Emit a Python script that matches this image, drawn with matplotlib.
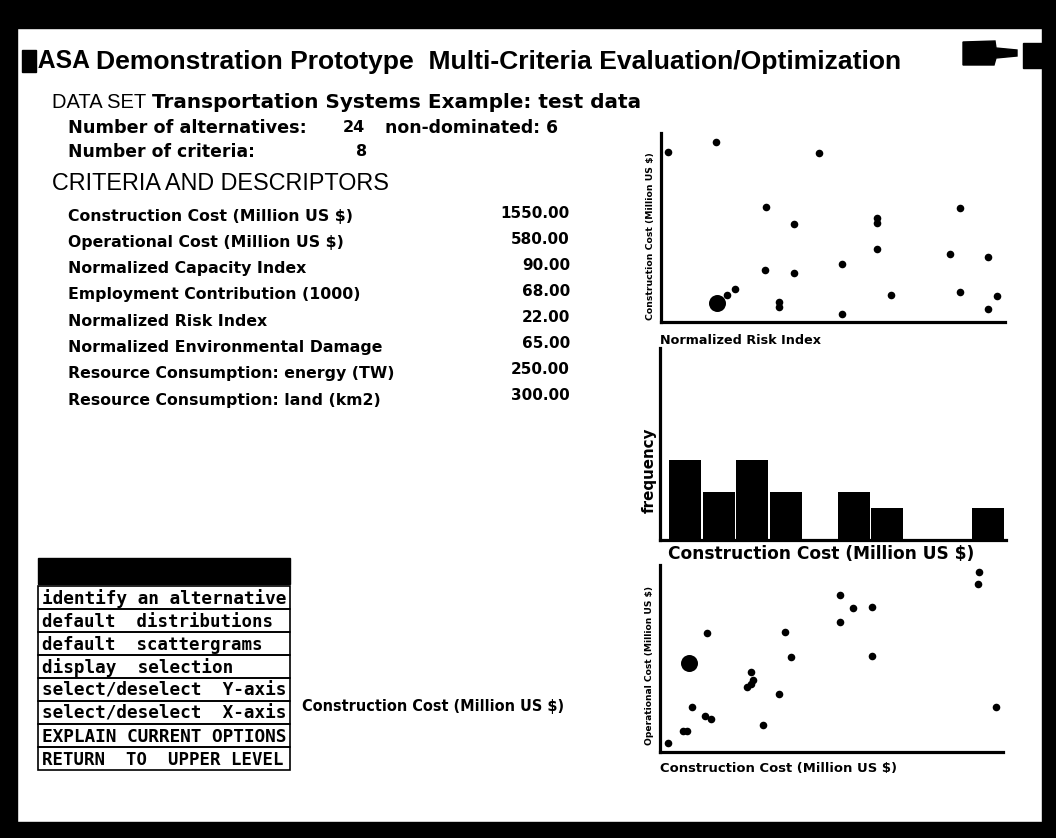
import matplotlib
matplotlib.use("Agg")
import matplotlib.pyplot as plt
from matplotlib.patches import Rectangle, Polygon

plt.rcParams["font.family"] = ["Liberation Sans", "DejaVu Sans"]
BITMAP = "DejaVu Sans"        # wide bold face, closest to the terminal font
MONO = "DejaVu Sans Mono"

# ── Screen text ─────────────────────────────────────────────────────────────
title_logo = "IIASA"
title_text = "Demonstration Prototype  Multi-Criteria Evaluation/Optimization"
dataset_name = "Transportation Systems Example: test data"
n_alternatives = 24
n_nondominated = 6
n_criteria = 8

criteria = [
    "Construction Cost (Million US $)",
    "Operational Cost (Million US $)",
    "Normalized Capacity Index",
    "Employment Contribution (1000)",
    "Normalized Risk Index",
    "Normalized Environmental Damage",
    "Resource Consumption: energy (TW)",
    "Resource Consumption: land (km2)",
]
descriptors = [1550.00, 580.00, 90.00, 68.00, 22.00, 65.00, 250.00, 300.00]

menu_items = [
    "identify an alternative",
    "default  distributions",
    "default  scattergrams",
    "display  selection",
    "select/deselect  Y-axis",
    "select/deselect  X-axis",
    "EXPLAIN CURRENT OPTIONS",
    "RETURN  TO  UPPER LEVEL",
]

# ── Chart data ─────────────────────────────────────────────────────────────
# scatter 1: Normalized Risk Index (x) vs Construction Cost (y)
risk_index = [2, 16, 46, 30.5, 38.7, 62.8, 62.8, 86.9, 30.2, 38.7, 52.6, 62.8,
              84, 95.1, 16.3, 19.2, 21.5, 34.3, 34.3, 52.6, 66.9, 86.9, 97.7, 95.1]
constr_cost_a = [1440, 1525, 1430, 975, 830, 880, 840, 965, 440, 415, 490, 620,
                 575, 550, 160, 230, 280, 170, 130, 70, 230, 255, 220, 110]
selected_a = 14

# histogram of Construction Cost, 10 classes
hist_counts = [5, 3, 5, 3, 0, 3, 2, 0, 0, 2]

# scatter 2: Construction Cost (x) vs Operational Cost (y)
constr_cost_b = [37, 107, 126, 149, 135, 219, 210, 238, 425, 406, 425, 434, 480,
                 555, 583, 611, 840, 840, 900, 989, 989, 1488, 1483, 1567]
oper_cost_b = [29, 67, 67, 144, 286, 382, 116, 106, 257, 209, 218, 231, 87,
               186, 385, 305, 504, 417, 462, 465, 308, 578, 539, 144]
selected_b = 4

W, H = 1056, 838
fig = plt.figure(figsize=(W / 100, H / 100), dpi=100)
bg = fig.add_axes([0, 0, 1, 1])
bg.set_xlim(0, W); bg.set_ylim(H, 0); bg.axis("off")
renderer = fig.canvas.get_renderer()


def label(x, y, s, width=None, size=11, **kw):
    """Put text at screen pixel (x, y); optionally scale font so it spans `width` px."""
    kw.setdefault("va", "center")
    t = bg.text(x, y, s, fontsize=size, **kw)
    if width:
        bb = t.get_window_extent(renderer)
        t.set_fontsize(size * width / max(bb.width, bb.height))
    return t


def pix_axes(x0, y0, x1, y1):
    ax = fig.add_axes([x0 / W, 1 - y1 / H, (x1 - x0) / W, (y1 - y0) / H])
    ax.set_facecolor("none")
    for sp in ["top", "right"]:
        ax.spines[sp].set_visible(False)
    for sp in ["left", "bottom"]:
        ax.spines[sp].set_linewidth(2.3)
    ax.set_xticks([]); ax.set_yticks([])
    return ax


bold = dict(fontweight="bold", family=BITMAP)

# ── Monitor frame ──────────────────────────────────────────────────────────
for r in [(0, 0, W, 28), (0, 0, 17, H), (1042, 0, 14, H), (0, 822, W, 16)]:
    bg.add_patch(Rectangle(r[:2], r[2], r[3], color="black", zorder=5))

# title bar
bg.add_patch(Rectangle((22, 50), 14, 22, color="black"))
label(24, 61, title_logo, width=66, size=16, fontweight="heavy")
label(96, 62, title_text, width=809, size=15, fontweight="bold")
bg.add_patch(Polygon([(963, 42), (995, 41), (996, 48), (1017, 50), (1017, 56),
                      (996, 58), (994, 65), (963, 65)], color="black"))
bg.add_patch(Rectangle((1023, 43), 20, 25, color="black"))

# ── Data set block ─────────────────────────────────────────────────────────
label(52, 184, "CRITERIA AND DESCRIPTORS", width=338, size=14)
label(52, 102, "DATA SET", size=14.5)
label(152, 102, dataset_name, width=488, size=12, **bold)
small = 11.5
label(68, 128, "Number of alternatives:", width=237, size=11, **bold)
label(343, 128, str(n_alternatives), size=small, **bold)
label(385, 128, f"non-dominated: {n_nondominated}", width=172, size=11, **bold)
label(68, 152, "Number of criteria:", width=185, size=11, **bold)
label(356, 152, str(n_criteria), size=small, **bold)

crit_size = 11.3
for i, name in enumerate(criteria):
    label(68, 216 + 26.3 * i, name, size=crit_size, **bold)
for i, v in enumerate(descriptors):
    label(570, 213 + 26.1 * i, f"{v:.2f}", size=11, ha="right", **bold)

# ── Menu ───────────────────────────────────────────────────────────────────
bg.add_patch(Rectangle((38, 558), 252, 26, color="black"))
menu_right = [288, 272, 262, 233, 287, 286, 287, 282]
row_h = 23
for i, (item, right) in enumerate(zip(menu_items, menu_right)):
    top = 586 + row_h * i
    bg.add_patch(Rectangle((38, top), 252, row_h, fill=False, lw=1.2, ec="black"))
    label(42, top + row_h / 2 + 1, item, width=right - 44, size=11,
          fontweight="bold", family=MONO)

label(302, 706, "Construction Cost (Million US $)", width=263, size=7, **bold)

# ── Scatter 1: risk vs construction cost ───────────────────────────────────
ax1 = pix_axes(661, 133, 1005, 322)
ax1.set_xlim(0, 100); ax1.set_ylim(0, 1600)
ax1.scatter(risk_index, constr_cost_a, s=30, color="black", lw=0)
ax1.scatter([risk_index[selected_a]], [constr_cost_a[selected_a]], s=150, color="black", lw=0)
label(650, 236, "Construction Cost (Million US $)", width=168, size=7,
      rotation=90, ha="center", **bold)
label(660, 340, "Normalized Risk Index", width=160, size=8, **bold)

# ── Histogram of construction cost ─────────────────────────────────────────
ax2 = pix_axes(660, 348, 1006, 540)
bin_w = 160
ax2.set_xlim(-43, 1600); ax2.set_ylim(0, 12)
ax2.bar([bin_w * i for i in range(len(hist_counts))], hist_counts, width=bin_w * 0.95,
        align="edge", color="black", lw=0)
label(649, 470, "frequency", width=86, size=10, rotation=90, ha="center", **bold)
label(668, 554, "Construction Cost (Million US $)", width=307, size=10, **bold)

# ── Scatter 2: construction vs operational cost ────────────────────────────
ax3 = pix_axes(660, 565, 1003, 752)
ax3.set_xlim(0, 1600); ax3.set_ylim(0, 600)
ax3.scatter(constr_cost_b, oper_cost_b, s=30, color="black", lw=0)
ax3.scatter([constr_cost_b[selected_b]], [oper_cost_b[selected_b]], s=150, color="black", lw=0)
label(649, 665, "Operational Cost (Million US $)", width=160, size=7,
      rotation=90, ha="center", **bold)
label(660, 768, "Construction Cost (Million US $)", width=235, size=8, **bold)

fig.savefig("out.png", dpi=100)
